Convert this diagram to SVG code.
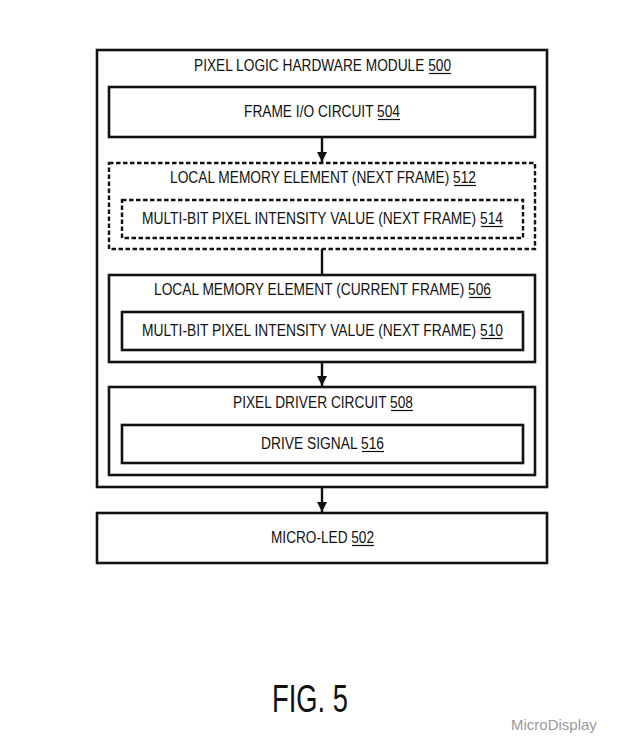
<svg xmlns="http://www.w3.org/2000/svg" width="619" height="751" viewBox="0 0 619 751">
<style>
.box{fill:none;stroke:#111;stroke-width:2.6}
.dash{fill:none;stroke:#111;stroke-width:2.4;stroke-dasharray:4.5 2.5}
.t{font-family:"Liberation Sans",Arial,sans-serif;font-size:16px;fill:#111}
.ul{stroke:#111;stroke-width:1.2}
.conn{stroke:#111;stroke-width:2.4;fill:none}
</style>
<defs>
<marker id="ah" viewBox="0 0 10 10" refX="10" refY="5" markerWidth="10" markerHeight="10" markerUnits="userSpaceOnUse" orient="auto">
<path d="M0,0 L10,5 L0,10 Z" fill="#111"/>
</marker>
</defs>
<rect width="619" height="751" fill="#fff"/>
<g id="module500">
<rect class="box" x="97" y="50" width="450" height="437"/>
<text class="t" x="194" y="71" textLength="257" lengthAdjust="spacingAndGlyphs">PIXEL LOGIC HARDWARE MODULE 500</text>
<line class="ul" x1="429" y1="73.5" x2="451" y2="73.5"/>
</g>
<g id="frameio504">
<rect class="box" x="109" y="87" width="426" height="50"/>
<text class="t" x="244" y="117" textLength="156" lengthAdjust="spacingAndGlyphs">FRAME I/O CIRCUIT 504</text>
<line class="ul" x1="378" y1="119.5" x2="400" y2="119.5"/>
</g>
<g id="mem512">
<rect class="dash" x="109" y="163" width="426" height="86"/>
<text class="t" x="170" y="183" textLength="306" lengthAdjust="spacingAndGlyphs">LOCAL MEMORY ELEMENT (NEXT FRAME) 512</text>
<line class="ul" x1="454" y1="185.5" x2="476" y2="185.5"/>
</g>
<g id="val514">
<rect class="dash" x="122" y="200" width="401" height="38"/>
<text class="t" x="142" y="224" textLength="361" lengthAdjust="spacingAndGlyphs">MULTI-BIT PIXEL INTENSITY VALUE (NEXT FRAME) 514</text>
<line class="ul" x1="481" y1="226.5" x2="503" y2="226.5"/>
</g>
<g id="mem506">
<rect class="box" x="109" y="275" width="426" height="87"/>
<text class="t" x="154" y="295" textLength="337" lengthAdjust="spacingAndGlyphs">LOCAL MEMORY ELEMENT (CURRENT FRAME) 506</text>
<line class="ul" x1="469" y1="297.5" x2="491" y2="297.5"/>
</g>
<g id="val510">
<rect class="box" x="122" y="312" width="401" height="38"/>
<text class="t" x="142" y="336" textLength="361" lengthAdjust="spacingAndGlyphs">MULTI-BIT PIXEL INTENSITY VALUE (NEXT FRAME) 510</text>
<line class="ul" x1="481" y1="338.5" x2="503" y2="338.5"/>
</g>
<g id="driver508">
<rect class="box" x="109" y="387" width="426" height="88"/>
<text class="t" x="233" y="408" textLength="180" lengthAdjust="spacingAndGlyphs">PIXEL DRIVER CIRCUIT 508</text>
<line class="ul" x1="391" y1="410.5" x2="413" y2="410.5"/>
</g>
<g id="signal516">
<rect class="box" x="122" y="425" width="401" height="38"/>
<text class="t" x="261" y="449" textLength="123" lengthAdjust="spacingAndGlyphs">DRIVE SIGNAL 516</text>
<line class="ul" x1="362" y1="451.5" x2="384" y2="451.5"/>
</g>
<g id="microled502">
<rect class="box" x="97" y="513" width="450" height="50"/>
<text class="t" x="271" y="543" textLength="103" lengthAdjust="spacingAndGlyphs">MICRO-LED 502</text>
<line class="ul" x1="352" y1="545.5" x2="374" y2="545.5"/>
</g>
<g id="connectors">
<line class="conn" x1="322" y1="137" x2="322" y2="162" marker-end="url(#ah)"/>
<line class="conn" x1="322" y1="249" x2="322" y2="275"/>
<line class="conn" x1="322" y1="362" x2="322" y2="386" marker-end="url(#ah)"/>
<line class="conn" x1="322" y1="487" x2="322" y2="512" marker-end="url(#ah)"/>
</g>
<text x="310" y="712" font-family="Liberation Sans,Arial,sans-serif" font-size="38" fill="#111" text-anchor="middle" textLength="76" lengthAdjust="spacingAndGlyphs">FIG. 5</text>
<text x="511" y="730" font-family="Liberation Sans,Arial,sans-serif" font-size="15" fill="#9a9a9a">MicroDisplay</text>
</svg>
